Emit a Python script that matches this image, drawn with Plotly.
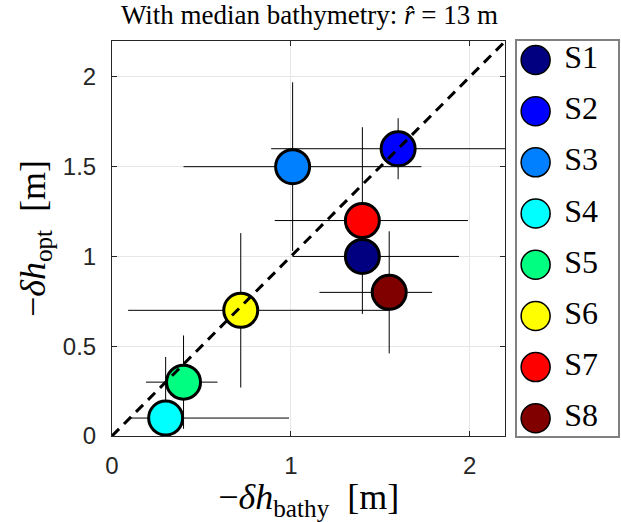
import plotly.graph_objects as go

names = ["S1", "S2", "S3", "S4", "S5", "S6", "S7", "S8"]
colors = ["#000080", "#0000FF", "#0080FF", "#00FFFF", "#00FF80", "#FFFF00", "#FF0000", "#800000"]
x_bathy = [1.40, 1.60, 1.01, 0.30, 0.40, 0.72, 1.40, 1.55]
y_opt = [1.00, 1.60, 1.50, 0.10, 0.30, 0.70, 1.20, 0.80]
x_lo = [1.01, 0.89, 0.40, 0.10, 0.19, 0.09, 0.91, 1.16]
x_hi = [1.94, 2.30, 1.73, 0.99, 0.59, 1.55, 1.99, 1.79]
y_lo = [0.68, 1.43, 1.03, -0.05, 0.04, 0.27, 0.95, 0.46]
y_hi = [1.30, 1.77, 1.97, 0.44, 0.56, 1.13, 1.72, 1.14]

serif = "Liberation Serif, Times New Roman, serif"
sans = "Liberation Sans, Arial, sans-serif"

fig = go.Figure()

# error bars
fig.add_trace(go.Scatter(
    x=x_bathy, y=y_opt, mode="markers",
    marker=dict(size=1, opacity=0),
    error_x=dict(type="data", symmetric=False,
                 array=[h - c for h, c in zip(x_hi, x_bathy)],
                 arrayminus=[c - l for l, c in zip(x_lo, x_bathy)],
                 color="black", thickness=1, width=0),
    error_y=dict(type="data", symmetric=False,
                 array=[h - c for h, c in zip(y_hi, y_opt)],
                 arrayminus=[c - l for l, c in zip(y_lo, y_opt)],
                 color="black", thickness=1, width=0),
    showlegend=False, hoverinfo="skip", xaxis="x", yaxis="y"))

# markers
fig.add_trace(go.Scatter(
    x=x_bathy, y=y_opt, mode="markers",
    marker=dict(size=34, color=colors, line=dict(color="black", width=3)),
    showlegend=False, xaxis="x", yaxis="y"))

# 1:1 line
fig.add_trace(go.Scatter(
    x=[0, 2.2], y=[0, 2.2], mode="lines",
    line=dict(color="black", width=3, dash="10px,7px"),
    showlegend=False, xaxis="x", yaxis="y"))

# custom legend
idx = list(range(len(names)))
fig.add_trace(go.Scatter(
    x=[18.3] * len(names), y=idx, mode="markers",
    marker=dict(size=29, color=colors, line=dict(color="black", width=1.5)),
    showlegend=False, xaxis="x2", yaxis="y2", hoverinfo="skip"))
fig.add_trace(go.Scatter(
    x=[47] * len(names), y=idx, mode="text", text=names,
    textposition="middle right",
    textfont=dict(family=serif, size=32, color="black"),
    showlegend=False, xaxis="x2", yaxis="y2", hoverinfo="skip"))

W, H = 621, 522
l, r, t, b = 112, 1, 41, 86
pw = W - l - r
main_frac = 395 / pw
leg0 = (519 - l) / pw

axis_common = dict(
    showline=True, linecolor="#262626", linewidth=1, mirror="allticks",
    ticks="inside", ticklen=5, tickcolor="#262626",
    showgrid=True, gridcolor="#e6e6e6", gridwidth=1,
    zeroline=False, tickfont=dict(family=sans, size=24, color="#262626"),
)

fig.update_layout(
    width=W, height=H,
    margin=dict(l=l, r=r, t=t, b=b, pad=0),
    paper_bgcolor="white", plot_bgcolor="white",
    title=dict(text="With median bathymetry: <i>r̂</i> = 13 m",
               font=dict(family=serif, size=27, color="black"),
               x=(l + 395 / 2) / W, xanchor="center", y=0.972, yanchor="middle"),
    xaxis=dict(domain=[0, main_frac], range=[0, 2.2], tickvals=[0, 1, 2],
               ticktext=["0", "1", "2"], ticklabelstandoff=8,
               title=dict(text="−<i>δh</i><sub>bathy</sub>  [m]",
                          font=dict(family=serif, size=36, color="black"), standoff=2),
               **axis_common),
    yaxis=dict(domain=[0, 1], range=[0, 2.2], tickvals=[0, 0.5, 1, 1.5, 2],
               ticktext=["0", "0.5", "1", "1.5", "2"], ticklabelstandoff=10,
               title=dict(text="−<i>δh</i><sub>opt</sub>  [m]",
                          font=dict(family=serif, size=36, color="black"), standoff=6),
               **axis_common),
    xaxis2=dict(domain=[leg0, 1], range=[0, 101], showgrid=False, zeroline=False,
                showticklabels=False, ticks="", showline=True, mirror=True,
                linecolor="#808080", linewidth=1.5, fixedrange=True, anchor="y2"),
    yaxis2=dict(domain=[0, 1], range=[7.346, -0.371], showgrid=False, zeroline=False,
                showticklabels=False, ticks="", showline=True, mirror=True,
                linecolor="#808080", linewidth=1.5, fixedrange=True, anchor="x2"),
)

fig.write_html("out.html")
